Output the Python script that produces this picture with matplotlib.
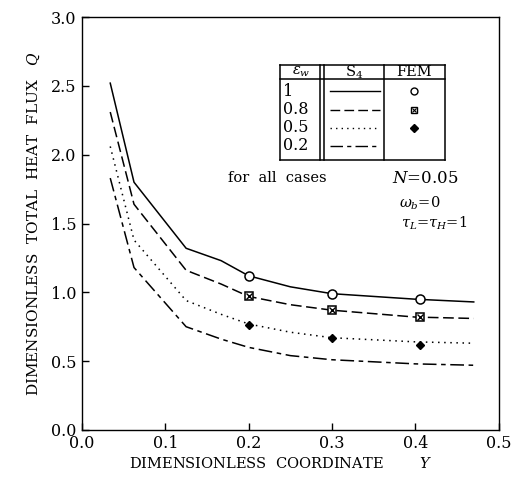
import matplotlib
matplotlib.use("Agg")
import matplotlib.pyplot as plt
from matplotlib.lines import Line2D

plt.rcParams['font.family'] = ['DejaVu Serif']
plt.rcParams['mathtext.fontset'] = 'dejavuserif'

# S4 solutions, dimensionless coordinate Y vs total heat flux Q
y_coord = [0.034, 0.0625, 0.125, 0.167, 0.2, 0.25, 0.3, 0.4, 0.47]
q_eps_1 = [2.52, 1.80, 1.32, 1.23, 1.12, 1.04, 0.99, 0.95, 0.93]
q_eps_08 = [2.31, 1.64, 1.16, 1.06, 0.97, 0.91, 0.87, 0.82, 0.81]
q_eps_05 = [2.06, 1.38, 0.94, 0.84, 0.77, 0.71, 0.67, 0.64, 0.63]
q_eps_02 = [1.83, 1.18, 0.75, 0.66, 0.60, 0.54, 0.51, 0.48, 0.47]

# FEM results
fem_y = [0.2, 0.3, 0.405]
fem_eps_1 = [1.12, 0.99, 0.95]
fem_eps_08 = [0.97, 0.87, 0.82]
fem_eps_05 = [0.76, 0.67, 0.62]

emissivities = ['1', '0.8', '0.5', '0.2']
x_ticks = [0.0, 0.1, 0.2, 0.3, 0.4, 0.5]
y_ticks = [0.0, 0.5, 1.0, 1.5, 2.0, 2.5, 3.0]

styles = ['-', (0, (7, 3)), (0, (1, 3)), (0, (9, 3, 3, 3))]

fig = plt.figure(figsize=(5.25, 4.88), dpi=100)
ax = fig.add_axes([0.156, 0.119, 0.794, 0.846])

for q, ls in zip([q_eps_1, q_eps_08, q_eps_05, q_eps_02], styles):
    ax.plot(y_coord, q, color='black', lw=1.1, linestyle=ls)

ax.plot(fem_y, fem_eps_1, linestyle='none', marker='o', ms=6.5,
        mfc='white', mec='black', mew=1.1)
ax.plot(fem_y, fem_eps_08, linestyle='none', marker='s', ms=5.5,
        mfc='white', mec='black', mew=1.1)
ax.plot(fem_y, fem_eps_08, linestyle='none', marker='x', ms=4.5,
        mec='black', mew=1.0)
ax.plot(fem_y, fem_eps_05, linestyle='none', marker='D', ms=4.5,
        mfc='black', mec='black')

ax.set_xlim(0, 0.5)
ax.set_ylim(0, 3.0)
ax.set_xticks(x_ticks)
ax.set_yticks(y_ticks)
ax.set_xticklabels([f'{v:.1f}' for v in x_ticks], fontsize=11.5)
ax.set_yticklabels([f'{v:.1f}' for v in y_ticks], fontsize=11.5)
ax.tick_params(direction='in', length=5, width=1, pad=4)
for s in ax.spines.values():
    s.set_linewidth(1.0)

ax.set_xlabel('DIMENSIONLESS  COORDINATE        $Y$', fontsize=10.5)
ax.xaxis.set_label_coords(0.478, -0.062)
ax.set_ylabel('DIMENSIONLESS  TOTAL  HEAT  FLUX   $Q$', fontsize=11, labelpad=6)

# Table-style legend
T = ax.transAxes
x0, x1 = 0.475, 0.870
yt, yb, yh = 0.884, 0.654, 0.850
box = [([x0, x1], [yt, yt]), ([x0, x1], [yb, yb]), ([x0, x0], [yb, yt]),
       ([x1, x1], [yb, yt]), ([x0, x1], [yh, yh]),
       ([0.572, 0.572], [yb, yt]), ([0.580, 0.580], [yb, yt]),
       ([0.724, 0.724], [yb, yt])]
for xs, ys in box:
    ax.add_line(Line2D(xs, ys, transform=T, color='black', lw=1.1))

ax.text(0.525, 0.867, r'$\varepsilon_w$', transform=T, ha='center', va='center', fontsize=10.5)
ax.text(0.652, 0.867, r'S$_4$', transform=T, ha='center', va='center', fontsize=10.5)
ax.text(0.797, 0.867, 'FEM', transform=T, ha='center', va='center', fontsize=10.5)

row_y = [0.820, 0.776, 0.732, 0.688]
for lab, ry, ls in zip(emissivities, row_y, styles):
    ax.text(0.483, ry, lab, transform=T, ha='left', va='center', fontsize=11.5)
    ax.add_line(Line2D([0.595, 0.715], [ry, ry], transform=T, color='black',
                       lw=1.0, linestyle=ls))
ax.plot([0.797], [row_y[0]], transform=T, marker='o', ms=5, mfc='white',
        mec='black', mew=1.0, linestyle='none')
ax.plot([0.797], [row_y[1]], transform=T, marker='s', ms=4.5, mfc='white',
        mec='black', mew=1.0, linestyle='none')
ax.plot([0.797], [row_y[1]], transform=T, marker='x', ms=3.5, mec='black',
        mew=0.8, linestyle='none')
ax.plot([0.797], [row_y[2]], transform=T, marker='D', ms=4, mfc='black',
        mec='black', linestyle='none')

ax.text(0.35, 0.610, 'for  all  cases', transform=T, ha='left', va='center', fontsize=10.5)
ax.text(0.745, 0.610, r'$N$=0.05', transform=T, ha='left', va='center', fontsize=12)
ax.text(0.760, 0.550, r'$\omega_b$=0', transform=T, ha='left', va='center', fontsize=10.5)
ax.text(0.765, 0.500, r'$\tau_L$=$\tau_H$=1', transform=T, ha='left', va='center', fontsize=10.5)

fig.savefig('out.png', dpi=100)
